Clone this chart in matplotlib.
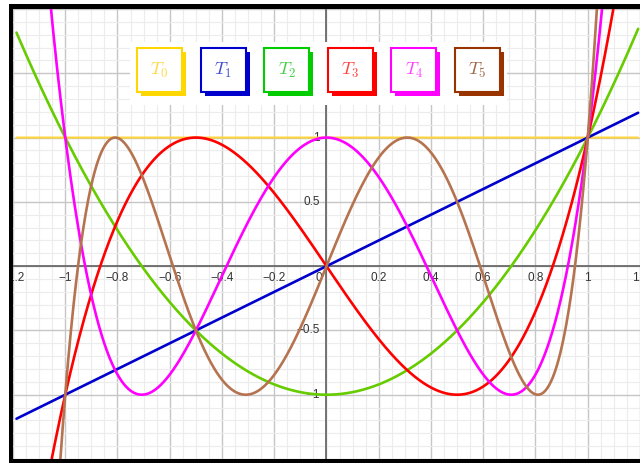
import numpy as np
import matplotlib.pyplot as plt
from matplotlib.patches import Rectangle

plt.rcParams['mathtext.fontset'] = 'cm'
plt.rcParams['font.family'] = ['Liberation Sans', 'DejaVu Sans']

# Chebyshev polynomials T0..T5, power-basis coefficients (constant term first)
t0_coef = [1]
t1_coef = [0, 1]
t2_coef = [-1, 0, 2]
t3_coef = [0, -3, 0, 4]
t4_coef = [1, 0, -8, 0, 8]
t5_coef = [0, 5, 0, -20, 0, 16]

names = ['$T_0$', '$T_1$', '$T_2$', '$T_3$', '$T_4$', '$T_5$']
line_colors = ['#FFD43A', '#0000CC', '#66CC00', '#FF0000', '#FF00FF', '#B5734F']
line_widths = [1.5, 1.9, 1.9, 1.9, 1.9, 1.9]
box_colors = ['#FFD700', '#0000CC', '#00CC00', '#FF0000', '#FF00FF', '#993300']
text_colors = ['#FFD84A', '#4050D0', '#44D044', '#FF4444', '#FF44FF', '#A06848']

x_ticks = [-1.2, -1, -0.8, -0.6, -0.4, -0.2, 0, 0.2, 0.4, 0.6, 0.8, 1, 1.2]
x_tick_text = ['\u22121.2', '\u22121', '\u22120.8', '\u22120.6', '\u22120.4', '\u22120.2',
               '0', '0.2', '0.4', '0.6', '0.8', '1', '1.2']
y_ticks = [-1, -0.5, 0.5, 1, 1.5]
y_tick_text = ['\u22121', '\u22120.5', '0.5', '1', '1.5']

W, H = 640, 463
fig = plt.figure(figsize=(W / 100, H / 100), dpi=100)


def px(x, y):
    # pixel (from top-left) -> figure fraction
    return x / W, 1 - y / H


ax = fig.add_axes([13 / W, 4 / H, 627 / W, 450 / H])
x0, x1 = -1.1867, 1.1928
y0, y1 = -1.4644, 1.9447
ax.set_xlim(x0, x1)
ax.set_ylim(y0, y1)

ax.set_xticks(np.arange(-1.2, 1.21, 0.2))
ax.set_xticks(np.arange(-1.2, 1.21, 0.05), minor=True)
ax.set_yticks(np.arange(-1.5, 2.01, 0.5))
ax.set_yticks(np.arange(-1.5, 2.01, 0.1), minor=True)
ax.grid(which='major', color='#c6c6c6', lw=1.0)
ax.grid(which='minor', color='#ececec', lw=0.8)
ax.tick_params(which='both', length=0, labelbottom=False, labelleft=False)
for s in ax.spines.values():
    s.set_visible(False)

ax.axhline(0, color='#606060', lw=1.2, zorder=2)
ax.axvline(0, color='#606060', lw=1.2, zorder=2)

for xv, lab in zip(x_ticks, x_tick_text):
    if xv == 0:
        ax.text(-0.018, -0.045, lab, ha='right', va='top', fontsize=8.5,
                color='#333333', clip_on=True, zorder=3)
    else:
        ax.text(xv, -0.045, lab, ha='center', va='top', fontsize=8.5,
                color='#333333', clip_on=True, zorder=3)
for yv, lab in zip(y_ticks, y_tick_text):
    ax.text(-0.025, yv, lab, ha='right', va='center', fontsize=8.5,
            color='#333333', clip_on=True, zorder=3)

xs = np.linspace(x0, x1, 3000)
coefs = [t0_coef, t1_coef, t2_coef, t3_coef, t4_coef, t5_coef]
for c, col, lw in zip(coefs, line_colors, line_widths):
    ys = np.polynomial.Polynomial(c)(xs)
    ax.plot(xs, ys, color=col, lw=lw, zorder=4, solid_capstyle='round')

# legend panel with shadowed boxes
bx, by = px(130, 105)
ex, ey = px(507, 42)
fig.patches.append(Rectangle((bx, by), ex - bx, ey - by, transform=fig.transFigure,
                             facecolor='white', edgecolor='none', zorder=5))
for i, (lab, bc, tc) in enumerate(zip(names, box_colors, text_colors)):
    left = 137 + i * 63.6
    top = 48
    w, h = 45, 44
    sx, sy = px(left + 4, top + h + 4)
    fig.patches.append(Rectangle((sx, sy), w / W, h / H, transform=fig.transFigure,
                                 facecolor=bc, edgecolor='none', zorder=6))
    rx, ry = px(left, top + h)
    fig.patches.append(Rectangle((rx, ry), w / W, h / H, transform=fig.transFigure,
                                 facecolor='white', edgecolor=bc, lw=1.5, zorder=7))
    cx, cy = px(left + w / 2, top + h / 2)
    fig.text(cx, cy, lab, ha='center', va='center', fontsize=13, color=tc, zorder=8)

# black frame
for (l, t, r, b) in [(9, 4, 13, 463), (9, 4, 640, 9), (9, 459, 640, 463)]:
    lx, ly = px(l, b)
    fig.patches.append(Rectangle((lx, ly), (r - l) / W, (b - t) / H,
                                 transform=fig.transFigure, facecolor='black',
                                 edgecolor='none', zorder=10))

fig.savefig('out.png', dpi=100)
